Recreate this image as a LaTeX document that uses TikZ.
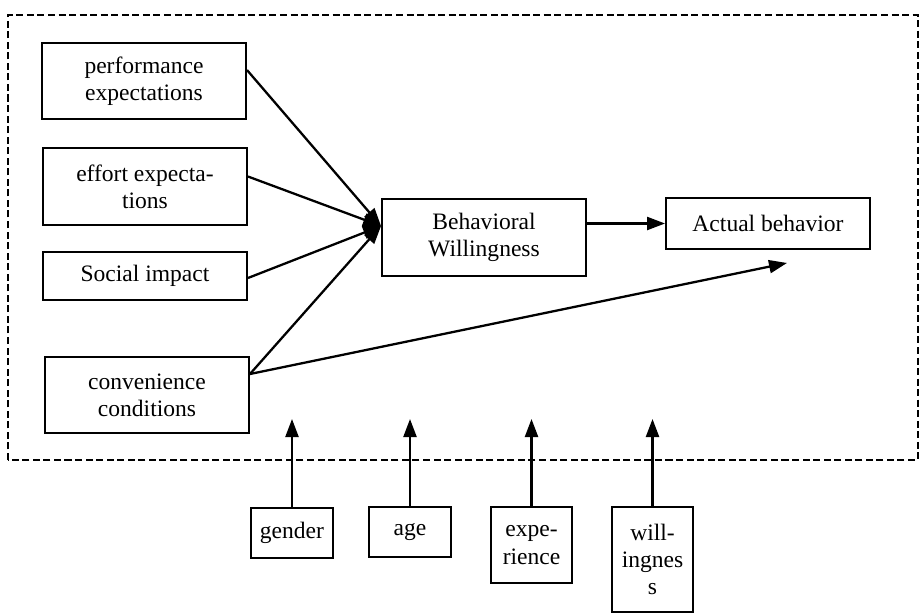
\documentclass[tikz,border=0pt]{standalone}
\usepackage{fontspec}
\setmainfont{Liberation Serif}
\usetikzlibrary{arrows.meta}

\begin{document}
\begin{tikzpicture}[
    box/.style={draw, line width=1.1pt, align=center, inner sep=0pt,
      font=\fontsize{13.4}{15.5}\selectfont},
    arr/.style={line width=1.3pt, -{Triangle[length=0.36cm,width=0.26cm]}}
  ]
    \useasboundingbox (0,0) rectangle (18.4,12.26);
    \draw[dash pattern=on 4pt off 2pt, line width=0.9pt] (0.16,3.06) rectangle (18.36,11.96);

    \node[box, minimum width=4.08cm, minimum height=1.52cm] (perf) at (2.88,10.64) {performance\\expectations};
    \node[box, minimum width=4.08cm, minimum height=1.54cm] (effort) at (2.90,8.53) {effort expecta-\\tions};
    \node[box, minimum width=4.08cm, minimum height=0.96cm] (social) at (2.90,6.74) {Social impact};
    \node[box, minimum width=4.08cm, minimum height=1.52cm] (conv) at (2.94,4.36) {convenience\\conditions};
    \node[box, minimum width=4.08cm, minimum height=1.54cm] (bw) at (9.68,7.51) {Behavioral\\Willingness};
    \node[box, minimum width=4.08cm, minimum height=1.02cm] (ab) at (15.36,7.79) {Actual behavior};

    \node[box, minimum width=1.64cm, minimum height=1.0cm] (gender) at (5.84,1.60) {gender};
    \node[box, minimum width=1.64cm, minimum height=1.0cm] (age) at (8.20,1.62) {age};
    \node[box, minimum width=1.62cm, minimum height=1.52cm] (exp) at (10.63,1.36) {expe-\\rience};
    \node[box, minimum width=1.62cm, minimum height=2.1cm] (will) at (13.05,1.07) {will-\\ingnes\\s};

    \coordinate (join) at ([yshift=0.23cm]bw.west);
    \coordinate (abin) at ([xshift=0.38cm,yshift=-0.26cm]ab.south);
    \coordinate (top) at (0,3.88);

    \draw[arr] ([yshift=0.22cm]perf.east) -- (join);
    \draw[arr] ([yshift=0.2cm]effort.east) -- (join);
    \draw[arr] ([yshift=-0.04cm]social.east) -- (join);
    \draw[arr] ([yshift=0.42cm]conv.east) -- (join);
    \draw[arr] ([yshift=0.42cm]conv.east) -- (abin);
    \draw[arr] (bw.east |- ab.west) -- (ab.west);

    \foreach \n in {gender,age,exp,will}
      \draw[arr] (\n.north) -- (\n.north |- top);
\end{tikzpicture}
\end{document}
